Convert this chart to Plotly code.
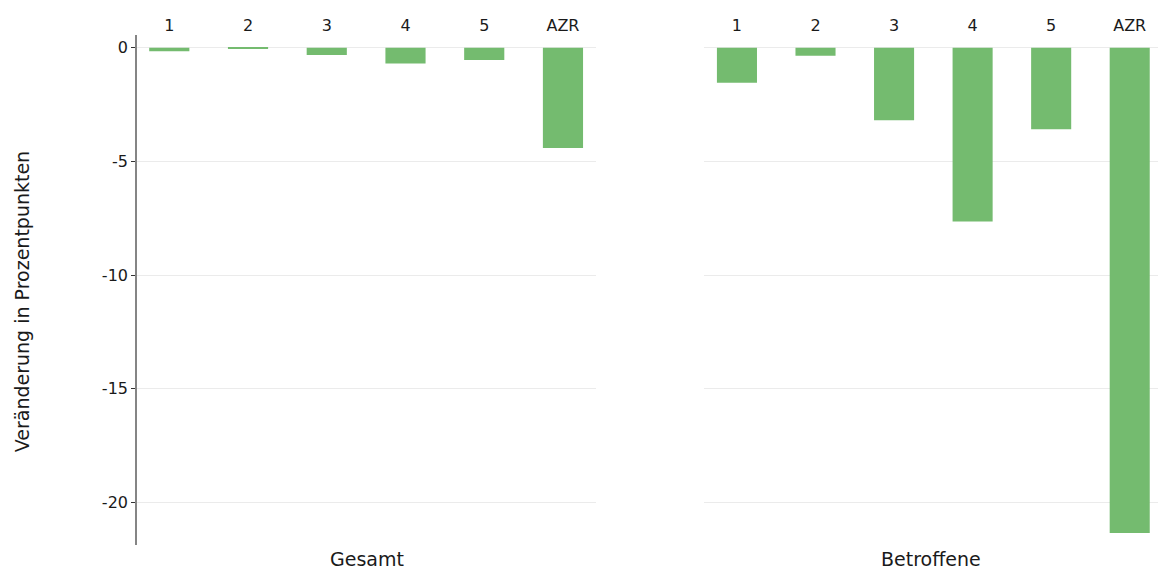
import plotly.graph_objects as go

categories = ["1", "2", "3", "4", "5", "AZR"]
gesamt_vals = [-0.15, -0.05, -0.32, -0.69, -0.54, -4.41]
betroffene_vals = [-1.54, -0.35, -3.19, -7.64, -3.58, -21.34]
panel_titles = ["Gesamt", "Betroffene"]
y_ticks = [0, -5, -10, -15, -20]
y_ticktext = [str(v) for v in y_ticks]  # plain hyphen, like the original

BAR_COLOR = "#74BB6F"
FONT = "DejaVu Sans"
TEXT = "#1a1a1a"
GRID = "#EBEBEB"

left_dom = [0, 0.4496]
right_dom = [0.5553, 1]

fig = go.Figure()

fig.add_trace(go.Bar(x=categories, y=gesamt_vals, marker_color=BAR_COLOR,
                     marker_line_width=0, xaxis="x", yaxis="y",
                     showlegend=False))
fig.add_trace(go.Bar(x=categories, y=betroffene_vals, marker_color=BAR_COLOR,
                     marker_line_width=0, xaxis="x2", yaxis="y2",
                     showlegend=False))

yrange = [-21.87, 0.56]
xaxis_common = dict(side="top", showgrid=False, showline=False, ticks="",
                    zeroline=False, tickfont=dict(size=16, color=TEXT),
                    type="category")

fig.update_layout(
    width=1158, height=575,
    margin=dict(l=137, r=0, t=35, b=30),
    paper_bgcolor="white", plot_bgcolor="white",
    font=dict(family=FONT, color=TEXT),
    bargap=0.49,
    xaxis=dict(domain=left_dom, range=[-0.41, 5.42], anchor="y",
               **xaxis_common),
    xaxis2=dict(domain=right_dom, range=[-0.42, 5.36], anchor="y2",
                **xaxis_common),
    yaxis=dict(range=yrange, tickvals=y_ticks, ticktext=y_ticktext,
               showgrid=True, gridcolor=GRID, gridwidth=1, zeroline=False,
               showline=True, linecolor="#858585", linewidth=1.6,
               ticks="outside", ticklen=4, tickcolor="#333333",
               tickfont=dict(size=16, color=TEXT), anchor="x"),
    yaxis2=dict(range=yrange, tickvals=y_ticks, showgrid=True, gridcolor=GRID,
                gridwidth=1, zeroline=False, showline=False,
                showticklabels=False, anchor="x2"),
)

# panel labels under each facet
for title, dom in zip(panel_titles, [left_dom, right_dom]):
    fig.add_annotation(text=title, x=(dom[0] + dom[1]) / 2, y=0,
                       xref="paper", yref="paper", xanchor="center",
                       yanchor="top", yshift=-1, showarrow=False,
                       font=dict(size=19, color=TEXT))

# y axis title
fig.add_annotation(text="Veränderung in Prozentpunkten", x=-0.1126, y=0.476,
                   xref="paper", yref="paper", xanchor="center",
                   yanchor="middle", textangle=-90, showarrow=False,
                   font=dict(size=19, color=TEXT))

# drop the default page margin so the figure sits at the top-left corner
fig.write_html("out.html", config={"displayModeBar": False},
               post_script="document.body.style.margin='0';"
                           "document.body.style.overflow='hidden';")
